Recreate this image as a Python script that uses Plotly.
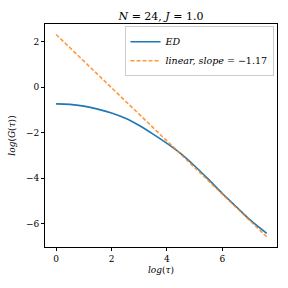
import plotly.graph_objects as go

# ED data: log(tau) vs log(G(tau))
log_tau = [0.0, 0.5, 1.0, 1.5, 2.0, 2.5, 3.0, 3.5, 4.0, 4.5, 5.0, 5.5, 6.0, 6.5, 7.0, 7.6]
log_G = [-0.73, -0.75, -0.83, -0.96, -1.13, -1.36, -1.68, -2.06, -2.47, -2.92,
         -3.46, -4.05, -4.67, -5.25, -5.83, -6.42]

# linear fit line (endpoints)
fit_x = [0.0, 7.6]
fit_y = [2.32, -6.57]

font_family = "DejaVu Serif, Liberation Serif, serif"

fig = go.Figure()
fig.add_trace(go.Scatter(
    x=log_tau, y=log_G, mode="lines", name="<i>ED</i>",
    line=dict(color="#1f77b4", width=1.6, shape="spline"),
))
fig.add_trace(go.Scatter(
    x=fit_x, y=fit_y, mode="lines", name="<i>linear, slope</i> = −1.17",
    line=dict(color="#ff7f0e", width=1.6, dash="4px,2px"), opacity=0.8,
))

axis_common = dict(
    showline=True, linecolor="black", linewidth=1, mirror=True,
    ticks="outside", ticklen=3, tickwidth=0.8, tickcolor="black",
    showgrid=False, zeroline=False, automargin=False,
    tickfont=dict(size=9, family=font_family, color="black"),
)

fig.update_layout(
    width=288, height=288,
    margin=dict(l=45, r=11, t=24, b=41),
    paper_bgcolor="white", plot_bgcolor="white",
    font=dict(family=font_family, color="black"),
    title=dict(text="<i>N</i> = 24, <i>J</i> = 1.0", xref="paper", x=0.5, xanchor="center",
               yref="container", y=0.945, yanchor="middle", font=dict(size=11)),
    xaxis=dict(range=[-0.4, 7.97], tickvals=[0, 2, 4, 6],
               title=dict(text="<i>log</i>(<i>τ</i>)", font=dict(size=9), standoff=3),
               **axis_common),
    yaxis=dict(range=[-7.02, 2.78], tickvals=[-6, -4, -2, 0, 2],
               title=dict(text="<i>log</i>(<i>G</i>(<i>τ</i>))", font=dict(size=9), standoff=8),
               **axis_common),
    legend=dict(x=0.985, y=0.99, xanchor="right", yanchor="top",
                bgcolor="rgba(255,255,255,0.8)", bordercolor="#cccccc", borderwidth=1,
                font=dict(size=9.5), tracegroupgap=0, itemwidth=30),
    showlegend=True,
)

fig.write_html("out.html", config={"displayModeBar": False},
               post_script="document.body.style.margin='0';")
